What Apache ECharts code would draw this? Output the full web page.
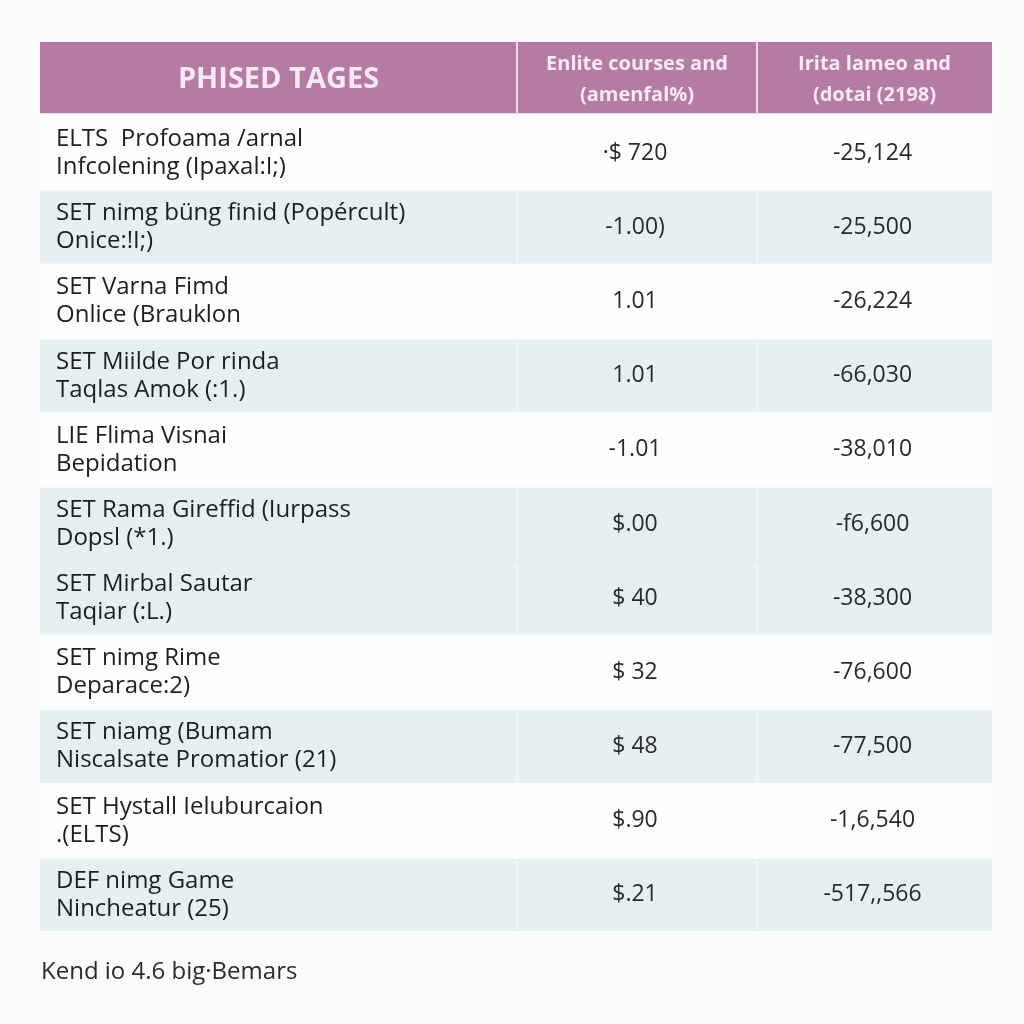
<!DOCTYPE html>
<html>
<head>
<meta charset="utf-8">
<script src="https://cdn.jsdelivr.net/npm/echarts@6/dist/echarts.min.js"></script>
<style>
  html, body { margin: 0; padding: 0; background: #fafcfc; }
  #main { width: 1024px; height: 1024px; }
</style>
</head>
<body>
<div id="main"></div>
<script>
// table content
const headers = ['PHISED TAGES', 'Enlite courses and\n(amenfal%)', 'Irita lameo and\n(dotai (2198)']
const programs = [
  'ELTS  Profoama /arnal\nInfcolening (Ipaxal:I;)',
  'SET nimg büng finid (Popércult)\nOnice:!I;)',
  'SET Varna Fimd\nOnlice (Brauklon',
  'SET Miilde Por rinda\nTaqlas Amok (:1.)',
  'LIE Flima Visnai\nBepidation',
  'SET Rama Gireffid (Iurpass\nDopsl (*1.)',
  'SET Mirbal Sautar\nTaqiar (:L.)',
  'SET nimg Rime\nDeparace:2)',
  'SET niamg (Bumam\nNiscalsate Promatior (21)',
  'SET Hystall Ieluburcaion\n.(ELTS)',
  'DEF nimg Game\nNincheatur (25)'
]
const fees = ['·$ 720', '-1.00)', '1.01', '1.01', '-1.01', '$.00', '$ 40', '$ 32', '$ 48', '$.90', '$.21']
const totals = ['-25,124', '-25,500', '-26,224', '-66,030', '-38,010', '-f6,600', '-38,300', '-76,600', '-77,500', '-1,6,540', '-517,,566']
const footNote = 'Kend io 4.6 big·Bemars'

// layout / style settings
const colEdges = [0, 477, 717, 952]
const shadedRows = [1, 3, 5, 6, 8, 10]
const fontFamily = '"Open Sans", "Noto Sans", sans-serif'

const chart = echarts.init(document.getElementById('main'))

function colX(i, row, api) {
  return api.coord([colEdges[i], row])[0]
}

chart.setOption({
  animation: false,
  backgroundColor: '#fafcfc',
  title: {
    text: footNote,
    left: 36,
    top: 955,
    textStyle: { fontFamily, fontSize: 24, fontWeight: 'normal', color: '#2b2b2b' }
  },
  grid: { left: 40, right: 32, top: 42, bottom: 92 },
  xAxis: { type: 'value', min: 0, max: 952, show: false },
  yAxis: {
    type: 'category',
    inverse: true,
    show: false,
    data: [headers[0]].concat(programs)
  },
  series: [
    {
      // header row
      type: 'custom',
      clip: false,
      data: [[0]],
      renderItem(params, api) {
        const row = api.value(0)
        const h = api.size([0, 1])[1]
        const cy = api.coord([0, row])[1]
        const top = cy - h / 2
        const children = []
        for (let i = 0; i < 3; i++) {
          const x0 = colX(i, row, api), x1 = colX(i + 1, row, api)
          children.push({
            type: 'rect',
            shape: { x: x0, y: top, width: x1 - x0, height: h - 3 },
            style: { fill: '#b47ba3' }
          })
          children.push({
            type: 'text',
            style: {
              text: headers[i],
              x: (x0 + x1) / 2,
              y: cy + 1,
              align: 'center',
              verticalAlign: 'middle',
              fontFamily,
              fontWeight: 'bold',
              fontSize: i === 0 ? 29 : 20,
              lineHeight: 31,
              fill: '#f8e9f3'
            }
          })
          if (i > 0) {
            children.push({
              type: 'rect',
              shape: { x: x0 - 1, y: top, width: 2, height: h - 3 },
              style: { fill: '#ecd6e5' }
            })
          }
        }
        return { type: 'group', children }
      }
    },
    {
      // body rows
      type: 'custom',
      clip: false,
      data: programs.map((_, i) => [i + 1]),
      renderItem(params, api) {
        const idx = params.dataIndex
        const row = api.value(0)
        const h = api.size([0, 1])[1]
        const cy = api.coord([0, row])[1]
        const top = cy - h / 2
        const shaded = shadedRows.indexOf(idx) >= 0
        const nextShaded = shadedRows.indexOf(idx + 1) >= 0
        const x0 = colX(0, row, api), x3 = colX(3, row, api)
        const children = [{
          type: 'rect',
          shape: { x: x0, y: top + 1, width: x3 - x0, height: h + (shaded && nextShaded ? 2 : -2) },
          style: { fill: shaded ? '#e4f0f1' : '#fdfefe' }
        }]
        if (shaded) {
          for (let i = 1; i < 3; i++) {
            const xd = colX(i, row, api)
            children.push({
              type: 'rect',
              shape: { x: xd - 1.5, y: top + 3, width: 3, height: h - 6 },
              style: { fill: '#f0f7f7' }
            })
          }
        }
        children.push({
          type: 'text',
          style: {
            text: programs[idx],
            x: x0 + 16,
            y: cy,
            align: 'left',
            verticalAlign: 'middle',
            fontFamily,
            fontSize: 24,
            lineHeight: 28,
            fill: '#1e1e1e'
          }
        })
        const cells = [fees[idx], totals[idx]]
        for (let i = 1; i < 3; i++) {
          const a = colX(i, row, api), b = colX(i + 1, row, api)
          children.push({
            type: 'text',
            style: {
              text: cells[i - 1],
              x: (a + b) / 2 - 2,
              y: cy,
              align: 'center',
              verticalAlign: 'middle',
              fontFamily,
              fontSize: 23,
              fill: '#2a2a2a'
            }
          })
        }
        return { type: 'group', children }
      }
    }
  ]
})
</script>
</body>
</html>
